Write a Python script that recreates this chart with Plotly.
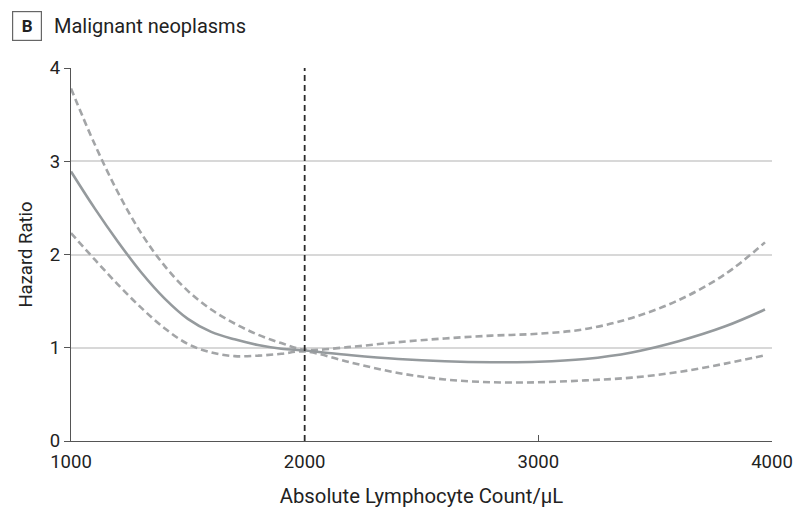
import plotly.graph_objects as go

# Data
x_vals = [1000, 1100, 1200, 1300, 1400, 1500, 1600, 1700, 1800, 1900, 2000,
          2200, 2400, 2600, 2800, 3000, 3200, 3400, 3600, 3800, 3970]
hr = [2.89, 2.50, 2.14, 1.81, 1.53, 1.31, 1.17, 1.09, 1.03, 0.99, 0.97,
      0.92, 0.88, 0.855, 0.845, 0.85, 0.88, 0.95, 1.07, 1.23, 1.41]
upper = [3.78, 3.19, 2.67, 2.23, 1.88, 1.61, 1.41, 1.26, 1.14, 1.05, 0.98,
         1.01, 1.06, 1.10, 1.13, 1.15, 1.20, 1.32, 1.51, 1.79, 2.13]
lower = [2.23, 1.95, 1.68, 1.43, 1.21, 1.04, 0.95, 0.91, 0.915, 0.935, 0.96,
         0.84, 0.73, 0.66, 0.63, 0.63, 0.65, 0.68, 0.74, 0.83, 0.92]
ref_x = 2000
x_ticks = [1000, 2000, 3000, 4000]
y_ticks = [0, 1, 2, 3, 4]

FONT = "Roboto, Liberation Sans, sans-serif"
CURVE = "#959a9d"
DASHC = "#a3a5a7"

fig = go.Figure()
fig.add_trace(go.Scatter(x=x_vals, y=upper, mode="lines", line_shape="spline",
                         line=dict(color=DASHC, width=2.6, dash="7px,4px"), hoverinfo="skip"))
fig.add_trace(go.Scatter(x=x_vals, y=lower, mode="lines", line_shape="spline",
                         line=dict(color=DASHC, width=2.6, dash="7px,4px"), hoverinfo="skip"))
fig.add_trace(go.Scatter(x=x_vals, y=hr, mode="lines", line_shape="spline",
                         line=dict(color=CURVE, width=2.6), hoverinfo="skip"))

fig.add_shape(type="line", x0=ref_x, x1=ref_x, y0=0, y1=4, xref="x", yref="y",
              line=dict(color="#2b2b2b", width=1.8, dash="6px,4px"), layer="above")

fig.update_layout(
    width=800, height=514,
    margin=dict(l=71, r=28, t=68, b=73, autoexpand=False),
    paper_bgcolor="white", plot_bgcolor="white",
    showlegend=False,
    font=dict(family=FONT, size=18, color="#222"),
    xaxis=dict(range=[1000, 4000], tickvals=x_ticks, ticktext=[str(v) for v in x_ticks],
               showline=True, linecolor="#555", linewidth=1.2, automargin=False,
               ticks="inside", ticklen=6, tickcolor="#555", tickwidth=1.2,
               showgrid=False, zeroline=False, ticklabelstandoff=4,
               tickfont=dict(family=FONT, size=18.5, color="#222"),
               title=dict(text="Absolute Lymphocyte Count/μL", standoff=16,
                          font=dict(family=FONT, size=20.3, color="#222"))),
    yaxis=dict(range=[0, 4], tickvals=y_ticks, automargin=False,
               showline=True, linecolor="#555", linewidth=1.2,
               ticks="outside", ticklen=6, tickcolor="#555", tickwidth=1.2,
               showgrid=True, gridcolor="#d8d8d8", gridwidth=1.5, zeroline=False,
               tickfont=dict(family=FONT, size=18.5, color="#222"),
               title=dict(text="Hazard Ratio", standoff=12,
                          font=dict(family=FONT, size=18.5, color="#222"))),
)

fig.add_annotation(text="<b>B</b>", xref="paper", yref="paper",
                   x=(27 - 71) / 701, y=(441 - 26) / 373, xanchor="center", yanchor="middle",
                   showarrow=False, font=dict(family=FONT, size=17, color="#222"),
                   bordercolor="#666", borderwidth=1.2, borderpad=3, width=22, height=22,
                   bgcolor="white")
fig.add_annotation(text="Malignant neoplasms", xref="paper", yref="paper",
                   x=(52 - 71) / 701, y=(441 - 26) / 373, xanchor="left", yanchor="middle",
                   showarrow=False, font=dict(family=FONT, size=20, color="#222"))

fig.write_html("out.html")
